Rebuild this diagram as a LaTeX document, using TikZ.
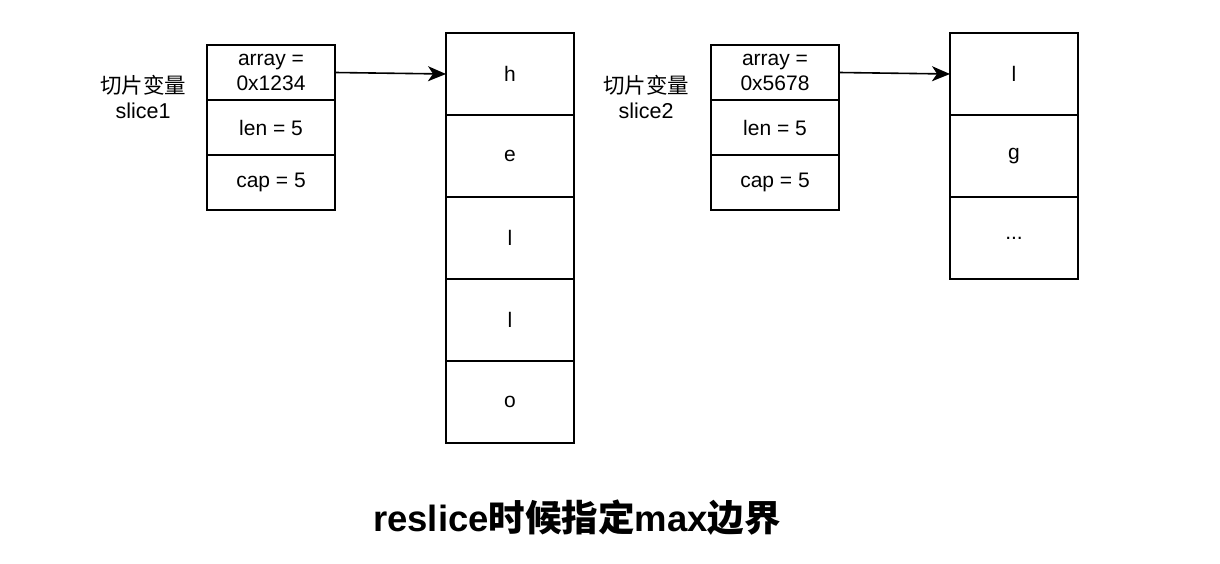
\documentclass[tikz,border=0pt]{standalone}
\usepackage{fontspec}
\setmainfont{Liberation Sans}
\newfontfamily\cjk{Noto Sans CJK SC}
\usetikzlibrary{positioning,arrows.meta}

\tikzset{
	field/.style={draw, line width=1.6pt, outer sep=0pt, inner sep=0pt, minimum width=128pt, minimum height=55pt, align=center, font=\fontsize{21}{25}\selectfont},
	elem/.style={draw, line width=1.6pt, outer sep=0pt, inner sep=0pt, minimum width=128pt, minimum height=82pt, font=\fontsize{21}{25}\selectfont},
	varname/.style={align=center, font=\fontsize{21.5}{25}\selectfont},
	ptr/.style={-{Stealth[length=18pt,width=15pt,inset=5pt]}, line width=1.6pt},
}

\begin{document}
\begin{tikzpicture}[x=1pt, y=-1pt]
	\useasboundingbox (0,0) rectangle (1220,564);
	
	% slice1 and its array
	\node[varname] (v1) at (143,97) {{\cjk 切片变量}\\slice1};
	\node[field, anchor=north west] (s1arr) at (207,45) {array =\\0x1234};
	\node[field, below=0pt of s1arr] (s1len) {len = 5};
	\node[field, below=0pt of s1len] (s1cap) {cap = 5};
	
	\node[elem, anchor=north west] (a1h) at (446,33) {h};
	\node[elem, below=0pt of a1h] (a1e) {e};
	\node[elem, below=0pt of a1e] (a1l) {l};
	\node[elem, below=0pt of a1l] (a1ll) {l};
	\node[elem, below=0pt of a1ll] (a1o) {o};
	
	% slice2 and its array
	\node[varname] (v2) at (646,97) {{\cjk 切片变量}\\slice2};
	\node[field, anchor=north west] (s2arr) at (711,45) {array =\\0x5678};
	\node[field, below=0pt of s2arr] (s2len) {len = 5};
	\node[field, below=0pt of s2len] (s2cap) {cap = 5};
	
	\node[elem, anchor=north west] (a2l) at (950,33) {l};
	\node[elem, below=0pt of a2l] (a2g) {g};
	\node[elem, below=0pt of a2g] (a2more) {...};
	
	\draw[ptr] (s1arr.east) -- (a1h.west);
	\draw[ptr] (s2arr.east) -- (a2l.west);
	
	\node[font=\bfseries\fontsize{36.5}{42}\selectfont] (title) at (577,518) {reslice{\cjk 时候指定}max{\cjk 边界}};
\end{tikzpicture}
\end{document}
